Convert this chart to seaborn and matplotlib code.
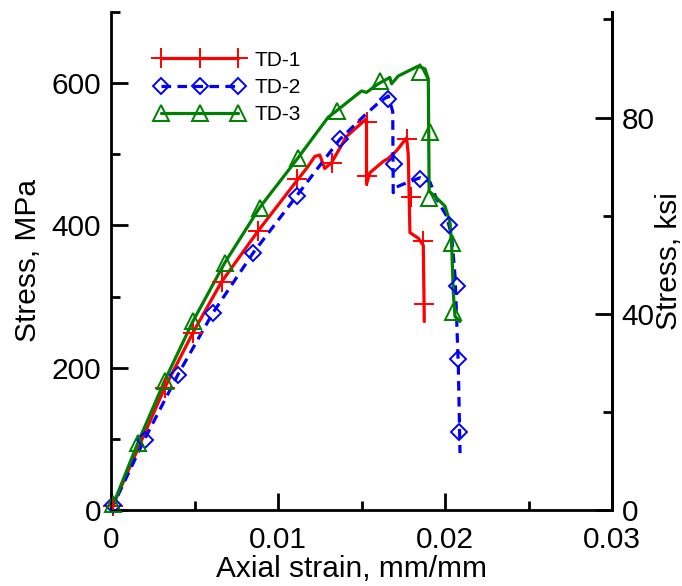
import numpy as np
import pandas as pd
import matplotlib
matplotlib.use("Agg")
import matplotlib.pyplot as plt
from matplotlib.lines import Line2D
from matplotlib.ticker import MultipleLocator
import seaborn as sns

# ---------------- data (strain mm/mm, stress MPa) ----------------
td1_strain = [0.0, 0.0032, 0.0049, 0.0066, 0.0088, 0.0111, 0.0118, 0.0122, 0.0125,
              0.0128, 0.0132, 0.0141, 0.0152, 0.0153, 0.0153, 0.0155, 0.0160, 0.0163,
              0.0166, 0.0171, 0.0177, 0.0178, 0.0179, 0.0184, 0.0187, 0.01876]
td1_stress = [0, 171, 249, 320, 392, 462, 483, 497, 499,
              480, 488, 525, 548, 550, 458, 474, 484, 490,
              494, 505, 523, 500, 390, 382, 372, 265]
td1_mk_strain = [0.00014, 0.00323, 0.00493, 0.00663, 0.00882, 0.01112, 0.01322,
                 0.01531, 0.01531, 0.01771, 0.01796, 0.01870, 0.01876]
td1_mk_stress = [6, 171, 249, 320, 392, 465, 488, 545, 469, 522, 440, 378, 289]

td2_strain = [0.0, 0.0020, 0.0040, 0.0061, 0.0085, 0.0111, 0.0137, 0.0152, 0.0160,
              0.0166, 0.01687, 0.01690, 0.0170, 0.0175, 0.0185, 0.0191, 0.0195,
              0.0201, 0.0204, 0.0206, 0.0207, 0.0208, 0.0209]
td2_stress = [0, 99, 190, 277, 361, 441, 521, 555, 572,
              582, 560, 446, 453, 458, 467, 461, 437,
              413, 385, 329, 268, 200, 80]
td2_mk_strain = [0.00014, 0.00204, 0.00403, 0.00613, 0.00852, 0.01112, 0.01371,
                 0.01660, 0.01696, 0.01850, 0.02026, 0.02074, 0.02080, 0.02084]
td2_mk_stress = [7, 99, 190, 277, 361, 441, 521, 578, 486, 465, 400, 315, 212, 109]

td3_strain = [0.0, 0.0016, 0.0032, 0.0049, 0.0068, 0.0089, 0.0112, 0.0130, 0.0135,
              0.0150, 0.0153, 0.0160, 0.0167, 0.0168, 0.0172, 0.0184, 0.0188,
              0.0190, 0.01905, 0.0194, 0.0200, 0.0203, 0.0204, 0.0205, 0.0206, 0.0209]
td3_stress = [0, 94, 181, 265, 347, 425, 495, 552, 561,
              589, 587, 599, 608, 599, 610, 624, 620,
              606, 448, 441, 427, 404, 371, 305, 272, 265]
td3_mk_strain = [0.00014, 0.00164, 0.00323, 0.00493, 0.00683, 0.00892, 0.01122,
                 0.01351, 0.01611, 0.01850, 0.01910, 0.01906, 0.02040, 0.02050]
td3_mk_stress = [9, 94, 181, 265, 347, 425, 495, 561, 603, 615, 531, 439, 376, 279]

labels = ["TD-1", "TD-2", "TD-3"]
colors = {"TD-1": "#ff0000", "TD-2": "#0000ff", "TD-3": "#008000"}

MPA_PER_KSI = 6.894757

# ---------------- figure ----------------
sns.set_style("ticks")
plt.rcParams["font.family"] = ["Liberation Sans", "DejaVu Sans"]
plt.rcParams["text.color"] = "black"
plt.rcParams["axes.labelcolor"] = "black"
plt.rcParams["xtick.color"] = "black"
plt.rcParams["ytick.color"] = "black"
plt.rcParams["axes.edgecolor"] = "black"

FS = 21.5

fig = plt.figure(figsize=(6.82, 5.86), dpi=100)
ax = fig.add_axes([111 / 682, 1 - 510 / 586, (612 - 111) / 682, (510 - 12) / 586])

df = pd.concat([
    pd.DataFrame({"strain": td1_strain, "stress": td1_stress, "spec": "TD-1"}),
    pd.DataFrame({"strain": td2_strain, "stress": td2_stress, "spec": "TD-2"}),
    pd.DataFrame({"strain": td3_strain, "stress": td3_stress, "spec": "TD-3"}),
], ignore_index=True)

sns.lineplot(data=df, x="strain", y="stress", hue="spec", style="spec",
             palette=colors, dashes={"TD-1": "", "TD-2": (3, 2), "TD-3": ""},
             sort=False, estimator=None, linewidth=2.3, legend=False, ax=ax)

mk = {"TD-1": dict(marker="+", markersize=14, markeredgewidth=1.4),
      "TD-2": dict(marker="D", markersize=8.5, markeredgewidth=1.4, markerfacecolor="none"),
      "TD-3": dict(marker="^", markersize=11, markeredgewidth=1.4, markerfacecolor="none")}
mk_data = {"TD-1": (td1_mk_strain, td1_mk_stress),
           "TD-2": (td2_mk_strain, td2_mk_stress),
           "TD-3": (td3_mk_strain, td3_mk_stress)}
for lab in labels:
    xs, ys = mk_data[lab]
    ax.plot(xs, ys, linestyle="none", color=colors[lab], zorder=3, clip_on=False, **mk[lab])

ax.set_xlim(0, 0.03)
ax.set_ylim(0, 700)
ax.xaxis.set_major_locator(MultipleLocator(0.01))
ax.xaxis.set_minor_locator(MultipleLocator(0.005))
ax.yaxis.set_major_locator(MultipleLocator(200))
ax.yaxis.set_minor_locator(MultipleLocator(100))
ax.set_xticks([0, 0.01, 0.02, 0.03])
ax.set_xticklabels(["0", "0.01", "0.02", "0.03"])

ax.tick_params(which="major", direction="in", length=12, width=2, labelsize=FS, pad=7)
ax.tick_params(which="minor", direction="in", length=6.5, width=2)
ax.tick_params(axis="x", which="major", pad=11.5)
ax.tick_params(axis="y", which="both", right=False)
ax.tick_params(axis="x", which="both", top=False)

ax.spines["top"].set_visible(False)
for s in ["left", "bottom", "right"]:
    ax.spines[s].set_linewidth(2)

ax.set_xlabel("Axial strain, mm/mm", fontsize=FS, labelpad=1)
ax.xaxis.label.set_x(0.481)
ax.set_ylabel("Stress, MPa", fontsize=FS, labelpad=7)

ax2 = ax.twinx()
ax2.set_ylim(0, 700 / MPA_PER_KSI)
ax2.yaxis.set_major_locator(MultipleLocator(40))
ax2.yaxis.set_minor_locator(MultipleLocator(20))
ax2.tick_params(which="major", direction="in", length=12, width=2, labelsize=FS, pad=7)
ax2.tick_params(which="minor", direction="in", length=6.5, width=2)
ax2.spines["top"].set_visible(False)
ax2.spines["right"].set_linewidth(2)
ax2.set_ylabel("Stress, ksi", fontsize=FS)
ax2.yaxis.set_label_coords(1.086, 0.50)

handles = []
for lab in labels:
    ls = "--" if lab == "TD-2" else "-"
    h = Line2D([], [], color=colors[lab], linestyle=ls, linewidth=2.3,
               dashes=(3, 2) if lab == "TD-2" else (None, None), **mk[lab])
    handles.append(h)
leg = ax.legend(handles, labels, loc="upper left", bbox_to_anchor=(0.05, 0.96),
                frameon=False, fontsize=15, numpoints=3, handlelength=4.3,
                handletextpad=0.5, labelspacing=0.4)

fig.savefig("out.png", dpi=100)
